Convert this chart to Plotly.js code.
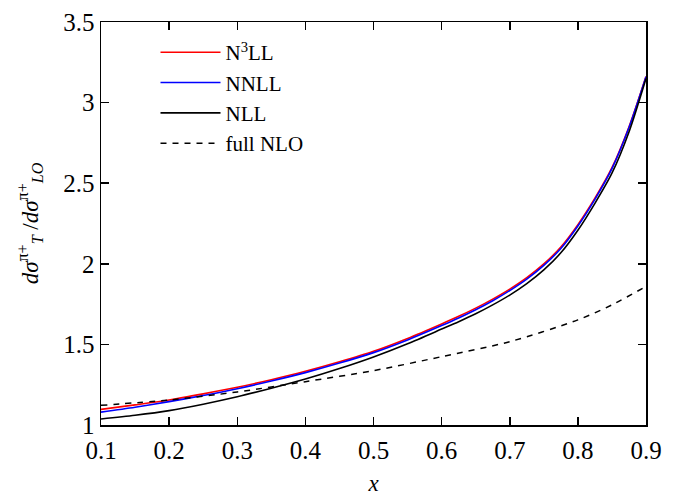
<!DOCTYPE html>
<html>
<head>
<meta charset="utf-8">
<script src="https://cdn.plot.ly/plotly-3.0.1.min.js"></script>
<style>html,body{margin:0;padding:0;background:#fff;}#chart{width:674px;height:497px;}</style>
</head>
<body>
<div id="chart"></div>
<script>
const xVals   = [0.1, 0.15, 0.2, 0.25, 0.3, 0.35, 0.4, 0.45, 0.5, 0.55, 0.6, 0.625, 0.65, 0.675, 0.7, 0.725, 0.75, 0.775, 0.8, 0.825, 0.85, 0.875, 0.9];
const n3ll    = [1.097, 1.125, 1.155, 1.193, 1.234, 1.281, 1.333, 1.392, 1.457, 1.537, 1.627, 1.674, 1.725, 1.781, 1.843, 1.914, 1.999, 2.104, 2.243, 2.407, 2.596, 2.849, 3.162];
const nnll    = [1.080, 1.110, 1.145, 1.183, 1.225, 1.273, 1.325, 1.384, 1.449, 1.528, 1.617, 1.664, 1.715, 1.771, 1.834, 1.905, 1.990, 2.095, 2.235, 2.400, 2.590, 2.845, 3.160];
const nll     = [1.037, 1.060, 1.089, 1.129, 1.175, 1.228, 1.285, 1.350, 1.422, 1.504, 1.595, 1.641, 1.690, 1.745, 1.806, 1.877, 1.962, 2.068, 2.208, 2.375, 2.562, 2.818, 3.150];
const xNLO    = [0.1, 0.2, 0.3, 0.4, 0.5, 0.6, 0.7, 0.8, 0.85, 0.9];
const fullNLO = [1.122, 1.155, 1.205, 1.269, 1.337, 1.424, 1.517, 1.652, 1.745, 1.860];
const names   = ['N<sup>3</sup>LL', 'NNLL', 'NLL', 'full NLO'];

const fam = 'Liberation Serif, DejaVu Serif, serif';
const tickFont = {family: fam, size: 25, color: '#000'};
const legFont = {family: fam, size: 21, color: '#000'};
const titleFont = {family: fam, size: 23, color: '#000'};
const traces = [
  {x: xVals, y: n3ll, name: names[0], mode: 'lines', line: {color: '#ff0000', width: 1.6, shape: 'spline', smoothing: 0.8}},
  {x: xVals, y: nnll, name: names[1], mode: 'lines', line: {color: '#0000ff', width: 1.6, shape: 'spline', smoothing: 0.8}},
  {x: xVals, y: nll, name: names[2], mode: 'lines', line: {color: '#000000', width: 1.6, shape: 'spline', smoothing: 0.8}},
  {x: xNLO, y: fullNLO, name: names[3], mode: 'lines', line: {color: '#000000', width: 1.5, dash: '6px,6px', shape: 'spline', smoothing: 0.8}}
];
const axisCommon = {
  showgrid: false, zeroline: false, showline: true, linecolor: '#000', linewidth: 1.5,
  mirror: 'allticks', ticks: 'inside', ticklen: 8, tickwidth: 1.5, tickcolor: '#000',
  tickfont: tickFont
};
const layout = {
  width: 674, height: 497,
  margin: {l: 101, r: 28, t: 22, b: 72},
  paper_bgcolor: '#fff', plot_bgcolor: '#fff',
  font: tickFont,
  showlegend: true,
  legend: {x: 0.1, y: 0.975, xanchor: 'left', yanchor: 'top', bgcolor: 'rgba(0,0,0,0)',
           font: legFont, tracegroupgap: 0, itemwidth: 60},
  xaxis: Object.assign({}, axisCommon, {range: [0.1, 0.9], dtick: 0.1, tick0: 0.1, ticklabelstandoff: 2,
           title: {text: '<i>x</i>', font: titleFont, standoff: 12}}),
  yaxis: Object.assign({}, axisCommon, {range: [1, 3.5], dtick: 0.5, tick0: 1,
           title: {text: '<i>dσ</i><sup>π+</sup><sub><i>T</i></sub> /<i>dσ</i><sup>π+</sup><sub><i>LO</i></sub>', font: titleFont, standoff: 18}})
};
Plotly.newPlot('chart', traces, layout, {displayModeBar: false, staticPlot: true});
</script>
</body>
</html>
